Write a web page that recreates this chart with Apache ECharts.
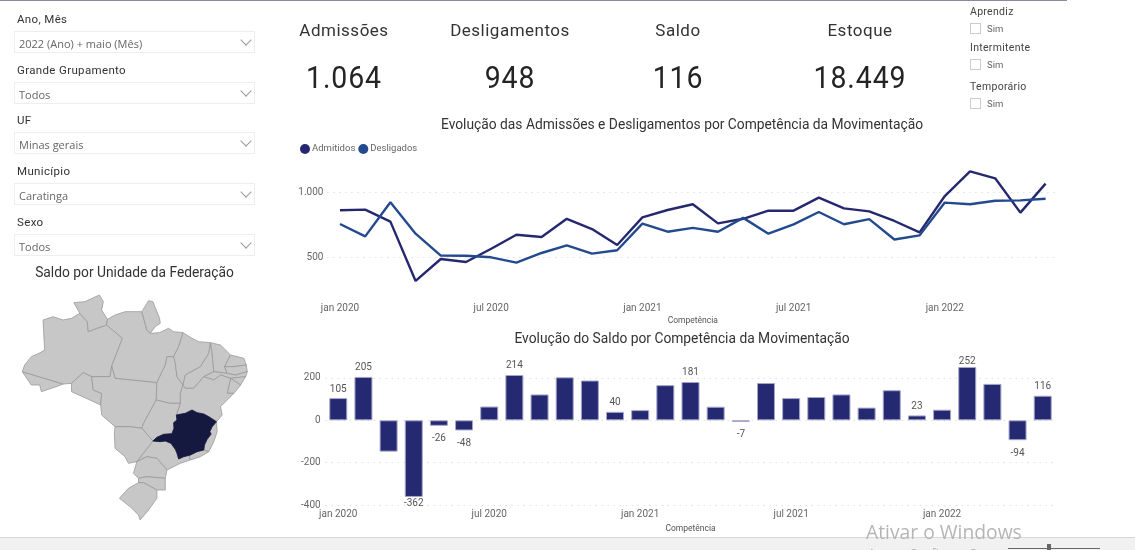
<!DOCTYPE html>
<html lang="pt-BR"><head><meta charset="utf-8"><title>Painel</title>
<script src="https://cdn.jsdelivr.net/npm/echarts@6/dist/echarts.min.js"></script>
<style>
html,body{margin:0;padding:0;background:#fff;width:1135px;height:550px;overflow:hidden}
#chart{position:absolute;left:0;top:0;width:1135px;height:550px}
.t{position:absolute;white-space:nowrap;line-height:1;z-index:2}
.lab{font:11.5px Roboto,sans-serif;color:#333;letter-spacing:.35px;left:17px}
.box{position:absolute;left:14px;width:239px;height:20px;border:1px solid #eee;background:#fff;z-index:1}
.val{font:11px "Open Sans",sans-serif;color:#666;left:19px}
.chev{position:absolute;left:242px;width:7px;height:7px;border-right:1px solid #999;border-bottom:1px solid #999;transform:rotate(45deg);z-index:2}
.kh{font:17px Roboto,sans-serif;color:#333;letter-spacing:.5px;transform:translateX(-50%)}
.kv{font:32px Roboto,sans-serif;color:#252423;letter-spacing:1px;transform:translateX(-50%) scaleX(.89)}
.cb{position:absolute;left:970px;width:9px;height:9px;border:1px solid #ccc;z-index:2}
.cl{font:10.5px Roboto,sans-serif;color:#444;left:970px;letter-spacing:.3px}
.cs{font:9.5px Roboto,sans-serif;color:#666;left:987px}
</style></head><body>
<div style="position:absolute;left:0;top:0;width:1067px;height:1px;background:#8a8a9e;z-index:3"></div>
<div id="chart"></div>
<div id="ui"></div>
<div style="position:absolute;left:0;top:537px;width:1135px;height:13px;background:#f1f1f1;border-top:1px solid #d8d8d8;z-index:3"></div>
<div class="t" style="left:866px;top:518px;font:19.3px 'Open Sans',sans-serif;color:#b5b5b5;z-index:4">Ativar o Windows</div>
<div class="t" style="left:868px;top:545px;font:12px 'Open Sans',sans-serif;color:#b5b5b5;z-index:4">Acesse Configurações</div>
<div style="position:absolute;left:1008px;top:548px;width:92px;height:1px;background:#666;z-index:4"></div>
<div style="position:absolute;left:1047px;top:544px;width:4px;height:6px;background:#666;z-index:4"></div>
<script>
const months = ["jan 2020","fev 2020","mar 2020","abr 2020","mai 2020","jun 2020","jul 2020","ago 2020","set 2020","out 2020","nov 2020","dez 2020","jan 2021","fev 2021","mar 2021","abr 2021","mai 2021","jun 2021","jul 2021","ago 2021","set 2021","out 2021","nov 2021","dez 2021","jan 2022","fev 2022","mar 2022","abr 2022","mai 2022"];
const admitidos = [860,865,773,319,487,464,565,673,655,795,716,594,806,862,906,760,795,857,857,957,875,852,778,691,969,1158,1105,842,1064];
const desligados = [755,660,921,681,513,512,500,459,533,592,528,554,758,696,725,696,802,681,752,847,753,792,636,668,919,906,933,936,948];
const saldo = [105,205,-148,-362,-26,-48,65,214,122,203,188,40,48,166,181,64,-7,176,105,110,122,60,142,23,50,252,172,-94,116];
const labelledMonths = ["jan 2020","fev 2020","abr 2020","mai 2020","jun 2020","ago 2020","dez 2020","mar 2021","mai 2021","dez 2021","fev 2022","abr 2022","mai 2022"];
const tightLabelMonths = ["abr 2020","fev 2022"];
const kpis = [["Admissões","1.064",344],["Desligamentos","948",510],["Saldo","116",678],["Estoque","18.449",860]];
const slicers = [["Ano, Mês","2022 (Ano) + maio (Mês)",12,31],["Grande Grupamento","Todos",63,82],["UF","Minas gerais",113,132],["Município","Caratinga",164,183],["Sexo","Todos",215,234]];
const flags = [["Aprendiz",5,23],["Intermitente",41,59],["Temporário",80,98]];
const selectedUF = "Minas Gerais";

const statePolygons = {
"Acre":[[68,335],[190,372],[175,378],[125,395],[120,375],[95,375]],
"Amazonas":[[68,335],[75,315],[95,290],[118,280],[135,270],[133,240],[130,180],[160,170],[190,180],[215,175],[240,160],[262,185],[265,215],[290,205],[320,195],[367,235],[335,318],[330,350],[275,350],[250,338],[215,370],[190,372]],
"Roraima":[[240,160],[222,128],[255,125],[298,105],[310,125],[305,150],[322,178],[320,195],[290,205],[265,215],[262,185]],
"Pará":[[322,178],[345,165],[375,155],[400,155],[425,155],[440,210],[450,220],[478,218],[505,205],[520,215],[548,218],[535,260],[520,290],[500,290],[495,315],[470,368],[345,355],[335,318],[367,235],[320,195]],
"Amapá":[[425,155],[445,122],[458,125],[478,175],[480,190],[465,200],[450,220],[440,210]],
"Rondônia":[[215,370],[250,338],[275,350],[280,390],[305,400],[302,435],[270,420],[215,395],[215,375]],
"Mato Grosso":[[275,350],[330,350],[335,318],[345,355],[470,368],[468,420],[430,490],[425,505],[390,500],[345,500],[305,465],[302,435],[305,400],[280,390]],
"Tocantins":[[495,315],[500,290],[520,290],[525,310],[530,350],[548,375],[540,400],[540,430],[510,430],[468,420],[470,368]],
"Maranhão":[[548,218],[575,235],[595,245],[630,248],[625,280],[600,320],[555,345],[548,375],[530,350],[525,310],[520,290],[535,260]],
"Piauí":[[630,248],[635,280],[640,335],[610,350],[580,385],[555,385],[548,375],[555,345],[600,320],[625,280]],
"Ceará":[[630,248],[660,255],[690,285],[672,320],[680,340],[640,335],[635,280]],
"Rio Grande do Norte":[[690,285],[730,295],[737,315],[700,320],[672,320]],
"Paraíba":[[672,320],[700,320],[737,315],[740,335],[705,345],[680,340]],
"Pernambuco":[[640,335],[680,340],[705,345],[740,335],[735,350],[690,355],[660,345],[640,360],[610,350]],
"Alagoas":[[735,350],[720,375],[690,355]],
"Sergipe":[[690,355],[720,375],[700,400],[680,400],[685,378]],
"Bahia":[[540,400],[548,375],[555,385],[580,385],[610,350],[640,360],[660,345],[690,355],[685,378],[680,400],[700,400],[680,420],[660,440],[665,465],[648,485],[625,470],[610,462],[590,458],[575,450],[555,460],[528,465],[540,430]],
"Espírito Santo":[[648,485],[650,515],[640,545],[625,575],[610,570],[612,555],[620,538],[632,522],[628,515],[635,500]],
"Rio de Janeiro":[[610,570],[625,575],[600,590],[570,600],[565,587],[570,585],[590,575]],
"São Paulo":[[458,543],[480,545],[495,543],[512,550],[525,568],[530,580],[535,597],[550,590],[570,585],[565,587],[570,600],[540,610],[500,630],[470,595],[440,590],[410,605]],
"Goiás":[[468,420],[510,430],[540,430],[528,465],[530,480],[520,488],[521,505],[515,521],[490,523],[470,532],[458,543],[425,505],[430,490]],
"Mato Grosso do Sul":[[345,500],[390,500],[425,505],[458,543],[410,605],[385,610],[375,590],[345,565],[343,520]],
"Paraná":[[410,605],[440,590],[470,595],[500,630],[495,655],[440,650],[415,655],[400,640]],
"Santa Catarina":[[415,655],[440,650],[495,655],[495,690],[470,690],[430,668],[415,668]],
"Rio Grande do Sul":[[358,715],[385,685],[415,668],[430,668],[470,690],[470,715],[445,750],[420,780],[415,765],[390,740]],
"Minas Gerais":[[458,543],[470,532],[490,523],[515,521],[521,505],[520,488],[530,480],[528,465],[555,460],[575,450],[590,458],[610,462],[625,470],[648,485],[635,500],[628,515],[632,522],[620,538],[612,555],[610,570],[590,575],[570,585],[550,590],[535,597],[530,580],[525,568],[512,550],[495,543],[480,545]]
};

const geo = {type:"FeatureCollection",features:Object.keys(statePolygons).map(function(n){
  return {type:"Feature",properties:{name:n},geometry:{type:"Polygon",coordinates:[statePolygons[n].map(function(p){return [p[0],-p[1]];})]}};
})};
echarts.registerMap("BR",geo);

let html="";
slicers.forEach(function(s){
  html+='<div class="t lab" style="top:'+s[2]+'px">'+s[0]+'</div><div class="box" style="top:'+s[3]+'px"></div><div class="t val" style="top:'+(s[3]+5)+'px;z-index:2">'+s[1]+'</div><div class="chev" style="top:'+(s[3]+5)+'px"></div>';
});
kpis.forEach(function(k){
  html+='<div class="t kh" style="left:'+k[2]+'px;top:20px">'+k[0]+'</div><div class="t kv" style="left:'+k[2]+'px;top:58px">'+k[1]+'</div>';
});
flags.forEach(function(f){
  html+='<div class="t cl" style="top:'+f[1]+'px">'+f[0]+'</div><div class="cb" style="top:'+f[2]+'px"></div><div class="t cs" style="top:'+f[2]+'px">Sim</div>';
});
document.getElementById("ui").innerHTML=html;

const fmt=function(v){return String(v).replace(/\B(?=(\d{3})+(?!\d))/g,".");};
const titleStyle={fontFamily:"Roboto",fontSize:13.8,fontWeight:"normal",color:"#333"};
const saldoItems=saldo.map(function(v,i){
  const tight=tightLabelMonths.indexOf(months[i])>=0;
  return {value:v,label:{distance:tight?(v<0?2:0):(v<0?8:4)}};
});
const chart=echarts.init(document.getElementById("chart"));
chart.setOption({
  animation:false,
  title:[
    {text:"Evolução das Admissões e Desligamentos por Competência da Movimentação",left:682,top:119,padding:0,textAlign:"center",textStyle:titleStyle},
    {text:"Evolução do Saldo por Competência da Movimentação",left:682,top:332.5,padding:0,textAlign:"center",textStyle:titleStyle},
    {text:"Saldo por Unidade da Federação",left:134.5,top:266.5,padding:0,textAlign:"center",textStyle:titleStyle}
  ],
  legend:{data:["Admitidos","Desligados"],left:295,top:139,icon:"circle",itemWidth:10,itemHeight:10,itemGap:3,
    textStyle:{fontFamily:"Roboto",fontSize:9.5,color:"#666",padding:[0,0,0,-3]},selectedMode:false},
  grid:[
    {left:327.4,width:730.8,top:126.7,height:195.9},
    {left:325.7,width:729.6,top:335.6,height:169.4}
  ],
  xAxis:[
    {gridIndex:0,type:"category",data:months,offset:-21,axisLine:{show:false},axisTick:{show:false},
     axisLabel:{interval:5,margin:2,fontFamily:"Roboto",fontSize:10,color:"#666"},
     name:"Competência",nameLocation:"middle",nameGap:15,nameTextStyle:{fontFamily:"Roboto",fontSize:8.5,color:"#555"}},
    {gridIndex:1,type:"category",data:months,axisLine:{show:false},axisTick:{show:false},
     axisLabel:{interval:5,margin:4,fontFamily:"Roboto",fontSize:10,color:"#666"},
     name:"Competência",nameLocation:"middle",nameGap:19,nameTextStyle:{fontFamily:"Roboto",fontSize:8.5,color:"#555"}}
  ],
  yAxis:[
    {gridIndex:0,type:"value",min:0,max:1500,interval:500,axisLine:{show:false},axisTick:{show:false},
     splitLine:{showMinLine:false,showMaxLine:false,lineStyle:{type:[1,5],color:"#cfcfcf"}},
     axisLabel:{showMinLabel:false,showMaxLabel:false,margin:4,fontFamily:"Roboto",fontSize:10,color:"#666",formatter:fmt}},
    {gridIndex:1,type:"value",min:-400,max:400,interval:200,axisLine:{show:false},axisTick:{show:false},
     splitLine:{showMaxLine:false,lineStyle:{type:[1,5],color:"#cfcfcf"}},
     axisLabel:{showMaxLabel:false,margin:5,fontFamily:"Roboto",fontSize:10,color:"#666"}}
  ],
  series:[
    {name:"Admitidos",type:"line",xAxisIndex:0,yAxisIndex:0,data:admitidos,showSymbol:false,symbol:"none",color:"#26286f",lineStyle:{width:2.4,color:"#26286f"}},
    {name:"Desligados",type:"line",xAxisIndex:0,yAxisIndex:0,data:desligados,showSymbol:false,symbol:"none",color:"#234a8f",lineStyle:{width:2.4,color:"#234a8f"}},
    {name:"Saldo",type:"bar",xAxisIndex:1,yAxisIndex:1,data:saldoItems,barWidth:18,
     itemStyle:{color:"#252972",borderColor:"#a5a6c8",borderWidth:1},
     label:{show:true,position:"outside",fontFamily:"Roboto",fontSize:10,color:"#555",
       formatter:function(p){return labelledMonths.indexOf(p.name)>=0?String(p.value):"";}}},
    {name:"Saldo por UF",type:"map",map:"BR",aspectScale:1,left:22.3,top:295,width:225,height:225,roam:false,silent:true,showLegendSymbol:false,
     label:{show:false},emphasis:{disabled:true},select:{disabled:true},
     itemStyle:{areaColor:"#c8c7c7",borderColor:"#999",borderWidth:0.8},
     data:[{name:selectedUF,value:116,itemStyle:{areaColor:"#15183f",borderColor:"#15183f"}}]}
  ]
});
</script></body></html>
